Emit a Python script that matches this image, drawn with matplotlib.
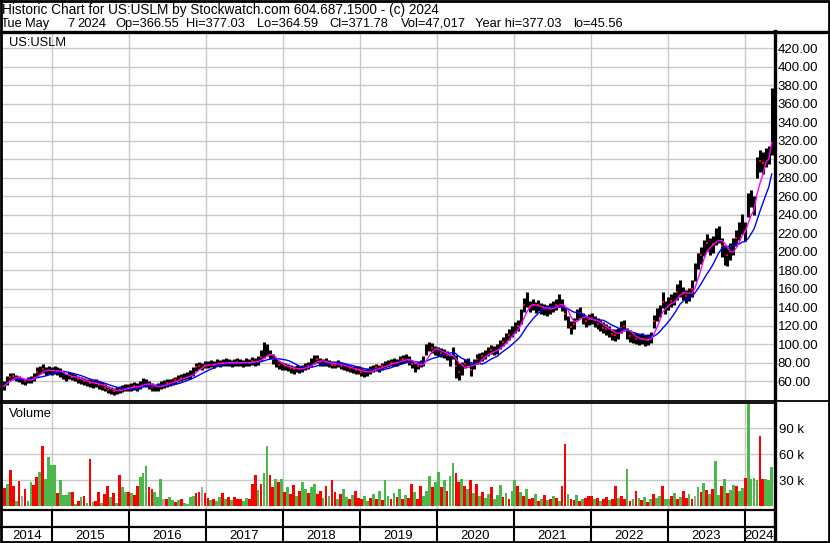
import numpy as np
import pandas as pd
import matplotlib
matplotlib.use("Agg")
import matplotlib.pyplot as plt

plt.rcParams['font.family'] = ['Liberation Sans', 'DejaVu Sans']

# ---- data (biweekly samples, last one = Tue May 7 2024) ----
close = [55, 61, 65, 66, 64, 63, 61, 60, 62, 62, 64, 70, 72, 73, 71, 72, 71,
         72, 71, 70, 66, 64, 66, 65, 64, 62, 61, 60, 59, 58, 57, 58, 56, 55, 53, 51, 50, 49, 50, 51, 52, 53, 53,
         54, 55, 54, 56, 59, 58, 56, 54, 53, 54, 56, 57, 58, 59, 60, 61, 63, 64, 65, 66, 67, 70, 75, 77, 76, 78,
         78, 79, 78, 80, 79, 80, 81, 80, 79, 80, 81, 80, 79, 81, 80, 82, 81, 82, 86, 90, 92, 88, 84, 80, 78, 77,
         76, 75, 74, 73, 74, 73, 74, 76, 77, 80, 83, 84, 81, 80, 81, 79, 78, 78, 79, 77, 76, 75, 74, 73, 72, 72,
         70, 69, 70, 72, 74, 75, 74, 76, 78, 79, 80, 81, 80, 83, 84, 85, 83, 79, 76, 77, 79, 80, 94, 98, 96, 93,
         92, 91, 90, 88, 82, 92, 76, 70, 75, 79, 80, 72, 78, 84, 86, 87, 89, 92, 94, 93, 95, 100, 103, 106, 110, 114,
         118, 120, 130, 142, 146, 141, 143, 140, 142, 139, 138, 137, 139, 141, 143, 146, 143, 133, 125, 119, 122, 132, 134, 128, 125, 127,
         128, 125, 122, 120, 118, 116, 114, 111, 110, 112, 118, 120, 112, 109, 107, 106, 105, 106, 104, 105, 107, 125, 132, 136, 146, 140,
         144, 147, 150, 156, 160, 155, 152, 154, 160, 178, 190, 196, 204, 210, 206, 208, 216, 218, 206, 198, 196, 200, 206, 215, 222, 228,
         222, 250, 258, 250, 290, 298, 296, 302, 305, 370]
high = [60, 66, 69, 69, 67, 66, 64, 63, 65, 66, 69, 75, 77, 79, 75, 76, 75,
        76, 75, 74, 70, 68, 70, 69, 68, 66, 65, 64, 63, 62, 61, 62, 60, 59, 57, 55, 54, 53, 54, 55, 56, 57, 57,
        58, 59, 58, 60, 64, 62, 60, 58, 57, 58, 60, 61, 62, 63, 64, 65, 67, 68, 69, 70, 72, 75, 80, 81, 80, 82,
        82, 83, 82, 84, 83, 84, 85, 84, 83, 84, 85, 84, 83, 85, 84, 86, 85, 87, 94, 102, 100, 94, 89, 85, 82, 81,
        80, 79, 78, 77, 78, 77, 78, 80, 81, 85, 88, 88, 85, 84, 85, 83, 82, 82, 83, 81, 80, 79, 78, 77, 76, 76,
        74, 73, 74, 76, 78, 79, 78, 80, 82, 83, 84, 85, 84, 87, 88, 89, 87, 83, 80, 81, 83, 87, 100, 103, 101, 98,
        97, 96, 95, 93, 90, 97, 88, 80, 81, 84, 85, 80, 84, 89, 91, 92, 94, 97, 99, 98, 100, 105, 108, 112, 116, 120,
        124, 126, 138, 150, 156, 147, 149, 146, 148, 145, 144, 143, 145, 147, 149, 154, 149, 140, 131, 125, 128, 138, 140, 134, 131, 133,
        134, 131, 128, 126, 124, 122, 120, 117, 116, 118, 125, 126, 118, 115, 113, 112, 111, 112, 110, 111, 113, 132, 139, 143, 156, 147,
        151, 154, 157, 165, 170, 162, 159, 161, 170, 188, 199, 205, 213, 219, 215, 217, 226, 228, 215, 207, 205, 209, 215, 224, 232, 241,
        232, 264, 267, 260, 302, 310, 308, 312, 314, 377]
low = [51, 56, 61, 62, 60, 59, 57, 56, 58, 58, 60, 65, 68, 69, 67, 68, 67,
       68, 67, 65, 62, 60, 62, 61, 60, 58, 57, 56, 55, 54, 53, 54, 52, 51, 49, 47, 46, 45, 46, 47, 48, 49, 49,
       50, 51, 50, 52, 55, 54, 52, 50, 49, 50, 52, 53, 54, 55, 56, 57, 59, 60, 61, 62, 63, 66, 71, 73, 72, 74,
       74, 75, 74, 76, 75, 76, 77, 76, 75, 76, 77, 76, 75, 77, 76, 78, 77, 78, 82, 85, 87, 84, 79, 75, 73, 72,
       72, 71, 69, 68, 70, 69, 70, 72, 73, 75, 79, 80, 77, 76, 77, 75, 74, 74, 75, 73, 72, 71, 70, 69, 68, 68,
       66, 65, 66, 68, 70, 71, 70, 72, 74, 75, 76, 77, 76, 79, 80, 81, 78, 74, 70, 73, 75, 76, 88, 93, 91, 88,
       87, 86, 85, 83, 76, 84, 64, 61, 67, 74, 75, 66, 73, 79, 81, 82, 84, 87, 89, 88, 90, 95, 98, 101, 105, 108,
       112, 114, 122, 135, 140, 135, 137, 134, 136, 133, 132, 131, 133, 135, 137, 140, 136, 126, 118, 111, 116, 126, 128, 122, 119, 121,
       122, 119, 116, 114, 112, 110, 108, 105, 104, 106, 112, 114, 106, 103, 101, 100, 99, 100, 98, 99, 101, 118, 125, 129, 139, 133,
       137, 140, 143, 148, 151, 148, 145, 147, 151, 168, 181, 187, 195, 201, 197, 199, 207, 209, 194, 186, 185, 191, 197, 206, 213, 219,
       212, 238, 248, 240, 280, 286, 284, 292, 295, 305]
# volume in thousands of shares
volume = [21, 26, 42, 23, 6, 29, 12, 20, 6, 28, 25, 34, 40, 70, 32, 57, 48,
          48, 15, 30, 13, 13, 17, 17, 3, 6, 11, 12, 4, 55, 5, 6, 17, 4, 14, 24, 11, 15, 4, 36, 22, 16, 17,
          15, 13, 24, 34, 38, 46, 22, 20, 17, 11, 32, 9, 9, 11, 7, 5, 7, 8, 4, 3, 11, 12, 15, 17, 22, 15,
          10, 7, 8, 6, 11, 15, 9, 11, 7, 11, 9, 8, 6, 10, 8, 26, 36, 19, 26, 38, 70, 36, 22, 32, 28, 31,
          17, 22, 14, 25, 12, 18, 28, 20, 15, 22, 26, 14, 18, 10, 24, 12, 30, 16, 9, 14, 20, 11, 8, 13, 18, 10,
          8, 12, 6, 10, 14, 9, 18, 7, 30, 12, 9, 15, 11, 20, 8, 13, 10, 26, 16, 9, 24, 12, 18, 35, 22, 28,
          40, 22, 30, 18, 35, 50, 38, 28, 32, 24, 20, 30, 15, 26, 12, 16, 10, 14, 22, 9, 13, 25, 11, 15, 9, 18,
          30, 24, 16, 12, 20, 8, 10, 14, 6, 9, 13, 7, 8, 12, 10, 6, 23, 72, 14, 9, 7, 13, 6, 8, 10, 12,
          12, 8, 10, 6, 9, 11, 7, 9, 23, 10, 12, 8, 43, 6, 9, 18, 10, 7, 11, 5, 9, 14, 10, 12, 23, 8,
          9, 12, 15, 8, 11, 18, 10, 14, 9, 12, 22, 17, 27, 19, 14, 20, 52, 13, 23, 32, 15, 19, 25, 24, 18, 21,
          33, 120, 32, 33, 30, 81, 31, 31, 30, 45]
# bar colour per sample: g = up, r = down, x = unchanged
vol_code = ("rgrrgrxrggrrgrggg"
            "grggggrgrgrgrgrrgrrgrgrggr"
            "grrgggrrgggxrggrgrggggrrxr"
            "rgrggrgrgrrrggrrrgrggrrgrg"
            "rgrrgrggrggrrgrgrrgrggrgrr"
            "rggrgrgrggrgrgrgrrgrrgggrg"
            "grgrggrrgrgrgrgrggrgggrgrg"
            "grgrgrrgrgrgrgrgrrgrrgrgrr"
            "rgrgrrgrrgrrgrgrgrgrgrggrg"
            "grgrgrrgrxgrgrgrggrgrggrgg"
            "rggggrrggg")

# ---- dates -> decimal years ----
dates = pd.date_range(end='2024-05-07', periods=len(close), freq='14D')
t = np.asarray(dates.year + (dates.dayofyear - 1) / np.where(dates.is_leap_year, 366.0, 365.0))

close = np.array(close, float)
high = np.array(high, float)
low = np.array(low, float)
volume = np.array(volume, float)
ma_fast = pd.Series(close).rolling(4, min_periods=1).mean()
ma_slow = pd.Series(close).rolling(10, min_periods=1).mean()

# ---- layout in pixels ----
W, H = 830, 543
FS = 9.3
fig = plt.figure(figsize=(W / 100, H / 100), dpi=100)


def box(top, bottom, left=3, right=774):
    return [left / W, 1 - bottom / H, (right - left) / W, (bottom - top) / H]


x0 = 2015 + (3 - 52) / 77.0
x1 = 2015 + (774 - 52) / 77.0
grid_c = '#c8c8c8'
years = np.arange(2015, 2025)

ax = fig.add_axes(box(32, 401))
axv = fig.add_axes(box(403, 509))
axd = fig.add_axes(box(510, 543))

# price panel
ax.set_xlim(x0, x1)
ax.set_ylim(38.7, 437.6)
ax.set_xticks(years)
ax.set_yticks(np.arange(60, 421, 20))
ax.set_yticklabels([f'{v:.2f}' for v in np.arange(60, 421, 20)])
ax.yaxis.tick_right()
ax.tick_params(axis='x', length=0, labelbottom=False)
ax.tick_params(axis='y', length=0, pad=2.5, labelsize=9.5)
ax.grid(True, color=grid_c, lw=1.0)
ax.set_axisbelow(True)
for s in ax.spines.values():
    s.set_visible(False)
ax.vlines(t, low, high, color='black', lw=2.2, zorder=2)
down = np.array([c == 'r' for c in vol_code])
ax.plot(t[down], close[down], 's', color='red', ms=2.0, mew=0, zorder=3)
ax.plot(t, ma_slow, color='#0000ff', lw=1.0, zorder=4)
ax.plot(t, ma_fast, color='#ff00ff', lw=1.0, zorder=5)

# volume panel
colors = {'g': '#4cb84c', 'r': '#ff0000', 'x': '#a8a8a8'}
axv.set_xlim(x0, x1)
axv.set_ylim(-3.1, 119.2)
axv.bar(t, volume, width=0.036, color=[colors[c] for c in vol_code], lw=0, zorder=2)
axv.set_xticks(years)
axv.set_yticks([30, 60, 90])
axv.set_yticklabels(['30 k', '60 k', '90 k'])
axv.yaxis.tick_right()
axv.tick_params(axis='x', length=0, labelbottom=False)
axv.tick_params(axis='y', length=0, pad=3.5, labelsize=9.5)
axv.grid(True, color=grid_c, lw=1.0)
axv.set_axisbelow(True)
for s in axv.spines.values():
    s.set_visible(False)

# date band
axd.set_xlim(x0, x1)
axd.set_ylim(0, 1)
axd.axis('off')
for y in years:
    axd.axvline(y, color='black', lw=1.5)
for y in range(2014, 2025):
    a, b = max(y, x0), min(y + 1, x1)
    axd.text((a + b) / 2, 0.11, str(y), ha='center', va='baseline', fontsize=9.5)

# frame lines and texts, drawn in pixel coordinates
ov = fig.add_axes([0, 0, 1, 1], zorder=10)
ov.set_xlim(0, W)
ov.set_ylim(H, 0)
ov.axis('off')
ov.patch.set_alpha(0)
ov.plot([1, W - 1, W - 1, 1, 1], [1, 1, H - 1, H - 1, 1], color='black', lw=2)
ov.plot([0, W], [31.5, 31.5], color='black', lw=2.4)
ov.plot([774.5, 774.5], [31, H], color='black', lw=2.4)
ov.plot([0, W], [400.5, 400.5], color='black', lw=1.3)
ov.plot([0, 774], [403, 403], color='black', lw=1.3)
ov.plot([0, 774], [509.5, 509.5], color='black', lw=1.6)
ov.plot([0, 774], [527, 527], color='black', lw=1.6)
ov.text(2, 14, 'Historic Chart for US:USLM by Stockwatch.com 604.687.1500 - (c) 2024',
        fontsize=9.8, va='baseline')
fields = [(1, 'Tue'), (25, 'May'), (67, '7'), (77, '2024'), (115, 'Op=366.55'),
          (186, 'Hi=377.03'), (257, 'Lo=364.59'), (329, 'Cl=371.78'), (401, 'Vol=47,017'),
          (475, 'Year hi=377.03'), (573, 'lo=45.56')]
for x, s in fields:
    ov.text(x, 27, s, fontsize=FS, va='baseline')
ov.text(9, 45.5, 'US:USLM', fontsize=FS, va='baseline')
ov.text(9, 417, 'Volume', fontsize=FS, va='baseline')

fig.savefig('out.png', dpi=100)
